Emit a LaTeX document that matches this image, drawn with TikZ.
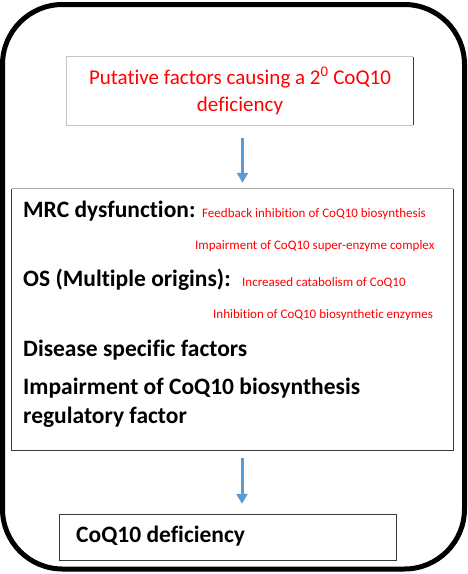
\documentclass[tikz,border=0pt]{standalone}
\usepackage{fontspec}
\setmainfont{Carlito}[Ligatures=NoCommon]
\usetikzlibrary{arrows.meta}
\definecolor{arrblue}{HTML}{5B9BD5}
\definecolor{darkedge}{HTML}{3A3A3A}
\definecolor{lightedge}{HTML}{C4C4C4}
\definecolor{midedge}{HTML}{A8A8A8}
\begin{document}
\begin{tikzpicture}[x=1pt,y=1pt,
  box/.style={inner sep=0pt, anchor=center},
  edgedark/.style={draw=darkedge, line width=0.9pt},
  edgelight/.style={draw=lightedge, line width=0.9pt},
  edgemid/.style={draw=midedge, line width=0.9pt},
  arr/.style={draw=arrblue, line width=3pt, -{Triangle[width=11pt,length=10pt]}},
  big/.style={font=\fontsize{23.5}{28}\selectfont\bfseries, anchor=base west, inner sep=0pt},
  small/.style={font=\fontsize{13}{15}\selectfont, text=red, anchor=base west, inner sep=0pt}]
\useasboundingbox (0,0) rectangle (468,-574);
\draw[line width=5pt, rounded corners=60pt] (2.5,-4.5) rectangle (464.5,-569);
\node[box, minimum width=346pt, minimum height=68pt, align=center,
      font=\fontsize{21}{27}\selectfont, text=red] (top) at (240,-91)
  {Putative factors causing a 2\textsuperscript{0} CoQ10\\deficiency};
\draw[edgelight] (top.north east) -- (top.north west) -- (top.south west) -- (top.south east);
\draw[edgedark] (top.north east) -- (top.south east);
\node[box, minimum width=441pt, minimum height=261pt] (mid) at (232.5,-319.5) {};
\draw[edgedark] (mid.north east) -- (mid.south east) -- (mid.south west) -- (mid.north west);
\draw[edgemid] (mid.north west) -- (mid.north east);
\node[box, minimum width=336.5pt, minimum height=45pt] (bot) at (227.75,-537.5) {};
\draw[edgedark] (bot.north west) rectangle (bot.south east);
\node[big] (t1) at (23,-217) {MRC dysfunction:};
\node[small] (r1) at (202,-217.5) {Feedback inhibition of CoQ10 biosynthesis};
\node[small] (r2) at (195,-249) {Impairment of CoQ10 super-enzyme complex};
\node[big] (t2) at (23,-286.7) {OS (Multiple origins):};
\node[small] (r3) at (242,-286.7) {Increased catabolism of CoQ10};
\node[small] (r4) at (213,-318.7) {Inhibition of CoQ10 biosynthetic enzymes};
\node[big] (t3) at (23,-356) {Disease specific factors};
\node[big] (t4) at (23,-394) {Impairment of CoQ10 biosynthesis};
\node[big] (t5) at (23,-423) {regulatory factor};
\node[big] (t6) at (76,-542) {CoQ10 deficiency};
\draw[arr] ([xshift=2.5pt,yshift=-13pt]top.south) -- ([xshift=2.5pt,yshift=6pt]top.south |- mid.north);
\draw[arr] ([xshift=9.5pt,yshift=-8pt]mid.south) -- ([xshift=9.5pt,yshift=11pt]mid.south |- bot.north);
\end{tikzpicture}
\end{document}
